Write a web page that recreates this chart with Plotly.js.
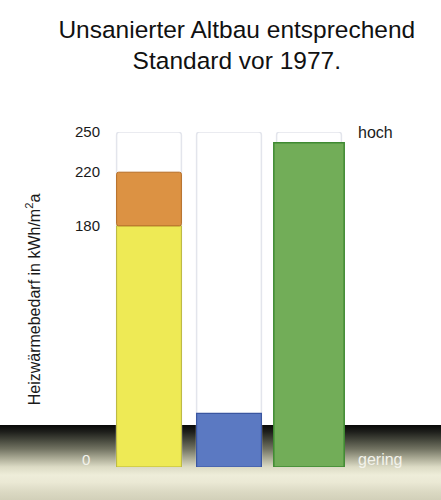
<!DOCTYPE html>
<html>
<head>
<meta charset="utf-8">
<script src="https://cdn.plot.ly/plotly-3.0.1.min.js"></script>
<style>
  html, body { margin: 0; padding: 0; width: 441px; height: 500px; overflow: hidden; }
  body {
    background: linear-gradient(to bottom,
      #ffffff 0px, #ffffff 425px,
      #080807 425px, #1f201c 432px, #45473c 440px, #727362 449px,
      #a9a994 458px, #dcdbc5 467px, #eeedd9 475px, #ebe9d5 482px, #dbd9c3 492px, #d2d0b9 500px);
  }
  #chart { width: 441px; height: 500px; }
</style>
</head>
<body>
<div id="chart"></div>
<script>
// ---- data ----
const categories = ["Altbau", "Neubau", "Vergleich"];
const maxValues = [250, 250, 250];          // ghost (background) bars
const yellowValues = [180, null, null];     // base part of bar 1
const orangeValues = [40, null, null];      // 180 -> 220
const orangeBase = [180, null, null];
const blueValues = [null, 40, null];
const greenValues = [null, null, 242];
const tickValues = [180, 220, 250];
const tickLabels = ["180", "220", "250"];
const zeroLabel = "0";
const highLabel = "hoch";
const lowLabel = "gering";

const traces = [
  {
    type: "bar", x: categories, y: maxValues, width: 0.81,
    marker: { color: "#ffffff", line: { color: "#e3e5ec", width: 1.5 }, cornerradius: 3 },
    hoverinfo: "skip"
  },
  {
    type: "bar", x: categories, y: yellowValues, width: 0.81,
    marker: { color: "#eeea55", line: { color: "#b9b53a", width: 1 }, cornerradius: 2 }
  },
  {
    type: "bar", x: categories, y: orangeValues, base: orangeBase, width: 0.81,
    marker: { color: "#dc9243", line: { color: "#b56c24", width: 1 }, cornerradius: 2 }
  },
  {
    type: "bar", x: categories, y: blueValues, width: 0.81,
    marker: { color: "#5b79c2", line: { color: "#3a56a0", width: 1.2 }, cornerradius: 2 }
  },
  {
    type: "bar", x: categories, y: greenValues, width: 0.88,
    marker: { color: "#72ad58", line: { color: "#3f8a32", width: 1.5 }, cornerradius: 2 }
  }
];

const layout = {
  width: 441, height: 500,
  margin: { l: 109, r: 92, t: 132, b: 33, pad: 0 },
  paper_bgcolor: "rgba(0,0,0,0)",
  plot_bgcolor: "rgba(0,0,0,0)",
  barmode: "overlay",
  showlegend: false,
  font: { family: "Liberation Sans, Arial, sans-serif", color: "#1a1a1a" },
  title: {
    text: "Unsanierter Altbau entsprechend<br>Standard vor 1977.",
    font: { size: 24.5, color: "#111111", family: "Liberation Sans, Arial, sans-serif" },
    xref: "container", x: 0.537, xanchor: "center",
    yref: "container", y: 0.925, yanchor: "middle"
  },
  xaxis: {
    range: [-0.5, 2.5], showticklabels: false, showgrid: false,
    zeroline: false, showline: false, ticks: ""
  },
  yaxis: {
    range: [0, 250], tickvals: tickValues, ticktext: tickLabels,
    showgrid: false, zeroline: false, showline: false, ticks: "",
    ticklabelstandoff: 8,
    tickfont: { size: 15, color: "#1a1a1a" },
    title: {
      text: "Heizwärmebedarf in kWh/m<sup>2</sup>a",
      font: { size: 16, color: "#1a1a1a" },
      standoff: 30
    },
    automargin: false
  },
  annotations: [
    {
      text: zeroLabel, xref: "paper", x: 0, xanchor: "right", xshift: -17,
      yref: "y", y: 0, yanchor: "middle", yshift: 8, showarrow: false,
      font: { size: 15, color: "#f3f3ec" }
    },
    {
      text: highLabel, xref: "paper", x: 1, xanchor: "left", xshift: 7,
      yref: "y", y: 250, yanchor: "middle", showarrow: false,
      font: { size: 16, color: "#1a1a1a" }
    },
    {
      text: lowLabel, xref: "paper", x: 1, xanchor: "left", xshift: 7,
      yref: "y", y: 0, yanchor: "middle", yshift: 8, showarrow: false,
      font: { size: 16, color: "#f3f3ec" }
    }
  ]
};

Plotly.newPlot("chart", traces, layout, { displayModeBar: false, staticPlot: true });
</script>
</body>
</html>
